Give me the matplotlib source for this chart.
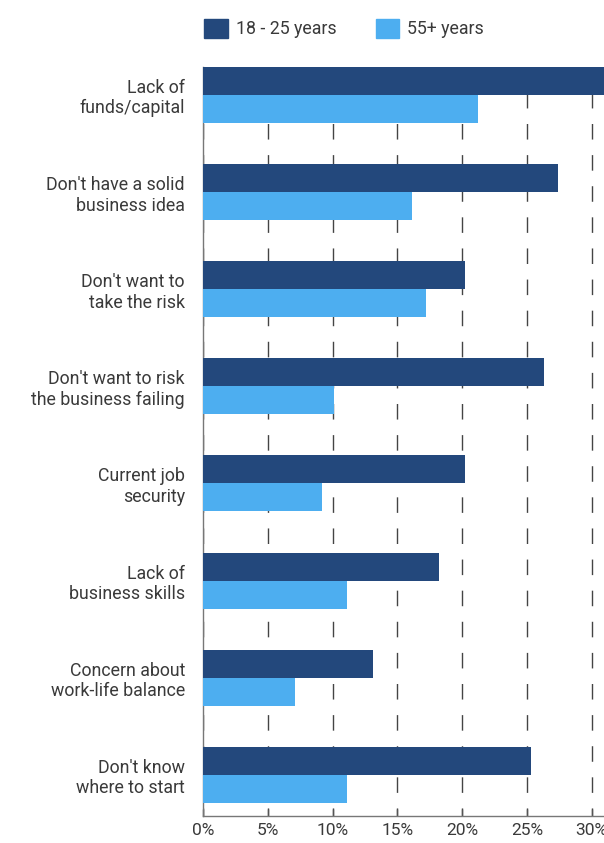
import matplotlib.pyplot as plt
from matplotlib.patches import Patch
import numpy as np

# ---------------------------------------------------
# Data
# ---------------------------------------------------

reasons = [
    "Lack of\nfunds/capital",
    "Don't have a solid\nbusiness idea",
    "Don't want to\ntake the risk",
    "Don't want to risk\nthe business failing",
    "Current job\nsecurity",
    "Lack of\nbusiness skills",
    "Concern about\nwork-life balance",
    "Don't know\nwhere to start",
]
young = [31.5, 27.4, 20.2, 26.3, 20.2, 18.2, 13.1, 25.3]
older = [21.2, 16.1, 17.2, 10.1, 9.2, 11.1, 7.1, 11.1]
series_labels = ["18 - 25 years", "55+ years"]
xticks = [0, 5, 10, 15, 20, 25, 30]

DARK = "#23487c"
LIGHT = "#4daef0"
TEXT = "#3a3a3a"

plt.rcParams["font.family"] = ["Roboto", "DejaVu Sans"]

# ---------------------------------------------------
# Figure
# ---------------------------------------------------

fig = plt.figure(figsize=(6.04, 8.43), dpi=100)
ax = fig.add_axes([0.3361, 0.0324, 0.6639, 0.8885])

y = np.arange(len(reasons))
h = 0.288

ax.barh(y - h / 2, young, height=h, color=DARK, label=series_labels[0], zorder=3)
ax.barh(y + h / 2, older, height=h, color=LIGHT, label=series_labels[1], zorder=3)

ax.set_xlim(0, 30.95)
ax.set_ylim(7.42, -0.29)

ax.set_yticks(y)
ax.set_yticklabels(reasons, fontsize=12.8, color=TEXT, linespacing=1.18)
ax.tick_params(axis="y", length=0, pad=13)

ax.set_xticks(xticks)
ax.set_xticklabels([f"{v}%" for v in xticks], fontsize=12.5, color=TEXT)
ax.tick_params(axis="x", direction="in", length=5, width=1, color="#555555", pad=5)

ax.xaxis.grid(True, color="#444444", linewidth=1, linestyle=(5.4, (11.2, 11.2)), zorder=0)
ax.set_axisbelow(True)

for s in ["top", "right"]:
    ax.spines[s].set_visible(False)
for s in ["left", "bottom"]:
    ax.spines[s].set_color("#777777")
    ax.spines[s].set_linewidth(1)

handles = [Patch(color=DARK), Patch(color=LIGHT)]
fig.legend(handles, series_labels, loc="upper left", bbox_to_anchor=(0.312, 0.997),
           ncol=2, frameon=False, fontsize=12.8, handlelength=1.3, handleheight=1.3,
           handletextpad=0.45, columnspacing=2.25, labelcolor=TEXT)

fig.savefig("out.png", dpi=100)
